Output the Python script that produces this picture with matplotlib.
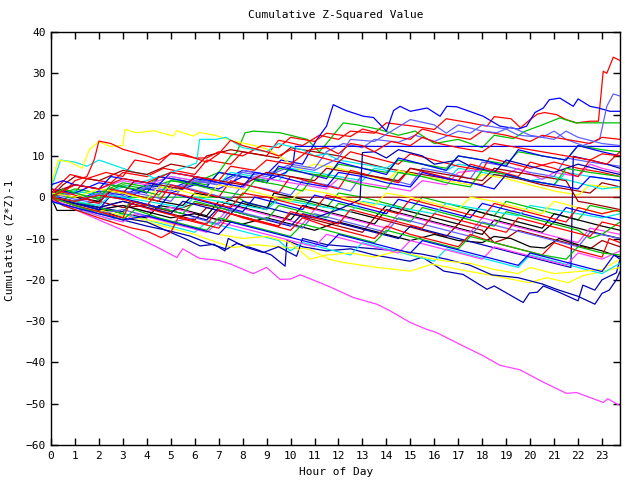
import matplotlib
matplotlib.use("Agg")
import matplotlib.pyplot as plt

# gnuplot-style colours
R = '#ff0000'
G = '#00c000'
B = '#0000ff'
M = '#ff40ff'
C = '#00e8e8'
DR = '#a00000'
Y = '#ffff00'
K = '#000000'
LB = '#6060ff'
DB = '#0000b0'

# each walk: (hour, cumulative value)
r_top = [(0,0),(0.5,2),(1,1.2),(1.5,4.5),(2.5,3.5),(3,6),(4,5),(4.7,7),(6,5.5),(6.5,9),(7.5,8),(8,11),(9,10),(9.5,13.8),(10.5,12.5),(11.2,15),(12,14),(12.5,16),(13.5,15.5),(14,18),(15,17.3),(16,16.4),(16.5,19),(17.5,18),(18.2,17.2),(18.5,19.5),(19.2,19),(19.6,16.8),(20,18.8),(20.3,20.1),(20.6,20.5),(21.1,20),(21.5,18.8),(21.94,18),(22.5,18.4),(22.85,18.4),(23.05,30.5),(23.2,30),(23.47,33.9),(23.75,33.1)]
r_a = [(0,1),(0.8,5.5),(1.5,4.5),(2.3,6),(3,5),(3.5,9),(4.5,8),(5,10.7),(6,9.5),(6.5,9.5),(7,11),(8,10),(8.8,12.5),(9.5,12),(10,14.5),(11,13.5),(11.5,15.5),(12.5,14.7),(13,16.5),(14,15),(15,14),(15.5,16.5),(16.5,15),(17.5,14),(18,16),(19,15),(20,13.5),(20.5,15),(21.5,14),(22.5,13),(23,14.5),(23.75,14)]
r_b = [(0,0),(0.5,1),(1,4),(1.5,5),(1.8,9),(2.0,13.6),(2.5,13),(3,11.6),(4,10),(4.5,9),(5,10.5),(5.5,10.5),(6,9.5),(6.5,8.5),(7,10.5),(7.5,13.8),(8,12.5),(9,11),(9.5,10),(10,11.5),(11,10),(12,8.5),(12.5,11),(13.5,9.5),(14.5,8),(15,10.5),(16,9),(17,7.5),(18,6.5),(18.3,9.5),(19,8.5),(20,7),(21,8.5),(22,7),(23,6),(23.75,5)]
r_c = [(0,2),(1,0.5),(2,-1.5),(2.5,2),(3.5,0.5),(4.5,-1),(5,3),(6,1.5),(7,0),(7.5,4),(8.5,2.5),(9.5,1),(10,5),(11,3.5),(12,2),(12.5,6.5),(13.5,5),(14.5,3.5),(15,7),(16,5.5),(17,4),(17.5,8),(18.5,6.5),(19.5,5),(20,8.5),(21,7),(22,5),(22.5,9),(23.2,8),(23.75,11)]
r_d = [(0,0),(1,-2),(2,-3.5),(3,-5),(3.3,-1.5),(4.5,-3.5),(5.5,-5),(6.5,-6.5),(7,-3),(8,-5),(9,-6.5),(10,-8),(10.5,-5),(11.5,-7),(12.5,-8.5),(13.5,-10),(14,-7),(15,-9),(16,-10.5),(17,-12),(17.5,-9),(18.5,-11),(19.5,-12.5),(20.5,-14),(21,-11),(22,-13),(23,-14.5),(23.3,-10),(23.75,-11)]
r_e = [(0,0),(0.5,-2),(1,-3),(2,-5),(2.8,-6.5),(3.4,-7.5),(4,-8.2),(4.6,-9.8),(5,-8.5),(5.3,-5),(6,-6),(7,-7.5),(7.5,-4),(8.5,-5.5),(9.5,-7),(10,-3.5),(11,-5),(12,-6.5),(12.5,-3),(13.5,-4.5),(14.5,-6),(15.5,-7.5),(16,-4),(17,-5.5),(18,-7),(19,-8.5),(19.5,-5),(20.5,-6.5),(21.5,-8),(22.5,-9.5),(23,-6),(23.75,-7)]
r_f = [(0,0),(1,3),(2,2),(3,4.5),(4,3.5),(5,6),(6,5),(7,4),(7.5,7.5),(8.5,6.5),(9,9),(10,8),(10.8,11.5),(11.5,12),(12,10.5),(12.5,13),(13,12.5),(13.5,11),(14.2,13.5),(15,12.5),(15.5,14.5),(16.2,13),(17,12),(18,11),(18.5,13),(19.5,12),(20.5,11),(21.5,10),(22.5,9),(23,10.5),(23.75,10)]
r_g = [(0,0),(1,-1),(2,0.5),(3,-0.5),(4,-2),(4.5,1.5),(5.5,0.5),(6.5,-1),(7.5,-2.5),(8,1),(9,0),(10,-1.5),(11,-3),(11.5,0.5),(12.5,-1),(13.5,-2.5),(14.5,-4),(15,-0.5),(16,-2),(17,-3.5),(18,-5),(18.5,-1.5),(19.5,-3),(20.5,-4.5),(21.5,-6),(22,-2.5),(23,-4),(23.75,-3)]

g_flat18 = [(0,0),(1,1.5),(2,0.5),(3,3),(4,2),(5,4),(6,3.5),(7,6),(7.5,10),(7.75,10.8),(8.1,15.6),(8.45,16),(9.56,15.6),(10.7,14),(11.2,11),(11.5,13),(12.2,18),(12.8,17.5),(13.7,16.4),(14.5,15),(15.2,16),(16,13),(17,14),(18,12),(18.5,15),(19.3,14.2),(19.8,16),(20.5,17.5),(21.24,19.2),(21.9,18),(23.75,18)]
g_flat0 = [(0,0),(0.3,-1),(0.7,0),(7.8,0),(8.2,-1.5),(9,-2.5),(9.5,0),(10.5,-1),(11.5,-2.5),(12,1),(13,0),(14,-1.5),(15,-3),(15.5,0),(16.5,-1.5),(17.5,-3),(18.5,-4.5),(19,-1),(20,-2.5),(21,-4),(22,-5.5),(22.5,-2),(23.75,-3.5)]
g_a = [(0,0),(1,2),(2,1),(3,3.5),(4,2.5),(4.5,5),(5.5,4),(6.5,3),(7,6),(8,5),(9,4),(9.5,7),(10.5,6),(11.5,5),(12,8),(13,7),(14,6),(14.5,9),(15.5,8),(16.5,7),(17,10),(18,9),(19,8),(19.5,11),(20.5,10),(21.5,9),(22,12.5),(23,11.5),(23.75,11)]
g_b = [(0,0),(1,-1),(2,-2.5),(3,-4),(3.3,-1),(4.5,-2.5),(5.5,-4),(6,-1),(7,-2.5),(8,-4),(9,-5.5),(9.5,-2),(10.5,-3.5),(11.5,-5),(12,-1.5),(13,-3),(14,-4.5),(15,-6),(15.5,-2.5),(16.5,-4),(17.5,-5.5),(18.5,-7),(19,-3.5),(20,-5),(21,-6.5),(22,-8),(22.5,-10),(23,-9),(23.75,-6)]
g_c = [(0,0),(0.5,2),(1,1),(2,-0.5),(2.5,3),(3.5,2),(4.5,0.5),(5,4),(6,3),(7,1.5),(8,0.5),(8.5,4),(9.5,3),(10.5,1.5),(11,5.5),(12,4.5),(13,3),(14,2),(14.5,6),(15.5,5),(16.5,3.5),(17.5,2.5),(18,6.5),(19,5.5),(20,4),(21,3),(21.5,7),(22.5,6),(23.75,5)]
g_d = [(0,0),(1,-2),(2,-4),(3,-5.5),(3.5,-3),(4.5,-5),(5.5,-6.5),(6.5,-8),(7,-5),(8,-6.5),(9,-8),(10,-9.5),(10.5,-6.5),(11.5,-8),(12.5,-9.5),(13.5,-11),(14,-8),(15,-9.5),(16,-11),(17,-12.5),(17.5,-9.5),(18.5,-11),(19.5,-12.5),(20.5,-14),(21.5,-15),(22,-12),(23,-13.5),(23.75,-14)]

b_top = [(0,0),(1,-1),(2,1.5),(3,0.5),(4,3),(5,2),(6,4.5),(7,3.5),(8,6.5),(9,5.5),(9.6,9),(10.5,8),(11.1,14),(11.5,17.2),(11.78,22.4),(12.3,21),(13.04,19.6),(13.46,19.3),(14,16),(14.3,21),(14.57,22),(15,20.8),(15.7,21.6),(16.24,19.6),(16.52,22),(16.93,21.9),(18.04,19.6),(18.74,17.2),(19.5,16.5),(19.85,17.2),(20.2,20.5),(20.55,21.6),(20.8,23.6),(21.24,24),(21.8,22),(22,23.8),(22.5,22),(22.85,21.6),(23.33,20.8),(23.75,20.8)]
b_flat = [(0,0.5),(1,-1),(2,0.5),(3,-0.5),(4,2),(5,1),(6,3),(7,2),(8,5),(9,4),(9.8,6),(10.1,8),(10.2,12.3),(23.75,12.3)]
b_low1 = [(0,0),(1,-2),(2,-3.5),(3,-5.5),(4,-7),(4.97,-8.2),(5.8,-9.4),(6.5,-11),(7.33,-12.6),(7.75,-11.2),(8.5,-12.5),(9.2,-14),(9.77,-16.7),(9.85,-10.5),(10.5,-12),(11.5,-13),(12.5,-12.5),(13.5,-14),(14.98,-15.5),(15.5,-14.5),(16.4,-17.9),(17.2,-18.7),(18.2,-22.3),(18.5,-21.5),(19.71,-25.5),(19.97,-23.2),(20.3,-23),(20.55,-21.5),(21.2,-23),(22.0,-25.1),(22.2,-21.3),(22.7,-22.5),(23.0,-20),(23.6,-18.3),(23.75,-15)]
b_low2 = [(0,0),(1,-1.5),(2,-3),(3,-5),(4,-6),(5.66,-10.2),(6.22,-11.8),(6.8,-11.4),(7.26,-13),(7.4,-10),(8.17,-12.2),(8.86,-13.4),(9.5,-12),(10.25,-14.3),(10.5,-10),(11.5,-11.5),(12.5,-12),(13.5,-12.5),(14.5,-13),(15.5,-13.8),(16.5,-15),(17.5,-16.5),(18.4,-18.8),(19.5,-19.5),(20.5,-21),(21.1,-22.3),(22,-24),(22.7,-25.9),(23.0,-23.3),(23.3,-22.5),(23.6,-20),(23.75,-18)]
b_a = [(0,2),(1,1),(2,3.5),(3,2.5),(4,1),(4.5,5),(5.5,4),(6.5,2.5),(7,6),(8,5),(9,3.5),(9.5,7.5),(10.5,6),(11.5,4.5),(12,8.5),(13,7),(14,5.5),(14.5,9.5),(15.5,8),(16.5,6.5),(17,10),(18,9),(19,7.5),(19.5,11.5),(20.5,10),(21.5,9),(22,12.5),(23,11),(23.75,10)]
b_b = [(0,0),(1,-1.5),(2,-3),(2.5,0.5),(3.5,-1),(4.5,-2.5),(5,1),(6,-0.5),(7,-2),(8,-3.5),(8.5,0),(9.5,-1.5),(10.5,-3),(11,0.5),(12,-1),(13,-2.5),(14,-4),(14.5,-0.5),(15.5,-2),(16.5,-3.5),(17.5,-5),(18,-1.5),(19,-3),(20,-4.5),(21,-6),(21.5,-2.5),(22.5,-4),(23.75,-5.5)]
b_c = [(0,0),(1,-1),(2,-2.5),(3,-3.5),(3.5,-1),(4.5,-2.5),(5.5,-4),(6.5,-5.5),(7,-2.5),(8,-4),(9,-5.5),(10,-7),(10.5,-4),(11.5,-5.5),(12.5,-7),(13.5,-8.5),(14.5,-10),(15,-7),(16,-8.5),(17,-10),(18,-11.5),(19,-13),(20,-14.5),(21,-16),(21.7,-17),(21.8,9.9),(22.5,9),(23.2,8),(23.75,7)]
b_d = [(0,0),(1,-1.5),(2,-2.5),(3,-1),(4,-2.5),(5,-4),(5.5,-1),(6.5,-2.5),(7.5,-4),(8,-1),(9,-2.5),(10,-4),(11,-5),(12,-3),(12.9,-0.6),(13,10.8),(13.5,11),(14,9.5),(14.5,11.5),(15.5,10),(16,8),(17,9),(17.5,7.5),(18.5,6),(19,9),(20,7.5),(21,6),(22,8),(23,6.5),(23.75,5.5)]
b_e = [(0,3),(0.5,4),(1,3),(2,2),(2.5,5),(3.5,4),(4.5,3),(5,6),(6,5),(7,3.5),(8,2.5),(8.5,6),(9.5,5),(10.5,3.5),(11.5,2.5),(12,6),(13,5),(14,3.5),(15,2.5),(15.5,6),(16.5,4.5),(17.5,3.5),(18.5,2),(19,5.5),(20,4),(21,3),(22,2),(22.5,5),(23.75,4)]
b_f = [(0,-1),(1,-2.5),(2,-4),(3,-5.5),(4,-4.5),(5,-6),(6,-7.5),(7,-9),(7.5,-6),(8.5,-7.5),(9.5,-9),(10.5,-10.5),(11.5,-12),(12,-9),(13,-10.5),(14,-12),(15,-13.5),(15.5,-10.5),(16.5,-12),(17.5,-13.5),(18.5,-15),(19.5,-16.5),(20,-13.5),(21,-15),(22,-16.5),(23,-18),(23.5,-14),(23.75,-15)]

lb_top = [(0,1),(1,-0.5),(2,-1.5),(2.5,2),(3.5,1),(4.5,3.5),(5.5,2.5),(6.5,4),(7.5,3),(8,6.5),(9,5.5),(10,8),(11,7),(11.5,11),(12.2,13),(13,12),(13.5,14),(14.5,13.3),(15.2,15),(16,13.5),(17,16),(17.5,15.5),(18,17.5),(19,16.5),(19.5,15),(20.5,14.5),(21,16),(21.5,14),(22.2,12.5),(22.9,14),(23.2,22),(23.47,25),(23.75,24.5)]
lb_a = [(0,0),(1,1),(2,-0.5),(3,1.5),(4,0.5),(5,-1),(5.5,2.5),(6.5,1),(7.5,-0.5),(8,3),(9,2),(10,0.5),(10.5,4),(11.5,3),(12.5,1.5),(13,5.5),(14,4.5),(15,3),(15.5,7),(16.5,6),(17.5,4.5),(18,8.5),(19,7.5),(20,6),(21,5),(21.5,9.5),(22.5,8.5),(23.75,7.5)]
lb_b = [(0,0),(1,-1),(2,1),(3,0),(4,2.5),(5,1.5),(6,4),(7,3),(8,6),(9,5),(10,7.5),(11,6.5),(12,9.5),(12.5,14),(13.5,13.5),(14.5,17),(15,18.8),(16,17.5),(16.5,15.5),(17,17.5),(18,16),(18.6,15.6),(19.2,17),(20,15),(21,14),(21.5,16),(22,14.5),(23,13),(23.75,12.5)]
lb_c = [(0,-1),(1,-2.5),(2,-4),(3,-3),(4,-4.5),(5,-6),(6,-5),(7,-6.5),(7.5,-3),(8.5,-4.5),(9.5,-6),(10.5,-7.5),(11,-4),(12,-5.5),(13,-7),(14,-8.5),(14.5,-5),(15.5,-6.5),(16.5,-8),(17.5,-9.5),(18,-6),(19,-7.5),(20,-9),(21,-10.5),(22,-12),(22.5,-8.5),(23.75,-10)]

m_low = [(0,-0.5),(0.5,-1.8),(1,-3),(2,-5.5),(3,-8),(3.76,-10.2),(4.5,-12.3),(5.25,-14.6),(5.5,-12.5),(6.2,-14.8),(7,-15.3),(7.5,-16.2),(8.44,-18.5),(9,-17),(9.56,-19.9),(10,-19.8),(10.4,-18.8),(10.8,-19.7),(11.64,-21.7),(12.62,-24.3),(13.6,-25.9),(14.15,-27.5),(14.98,-30.3),(15.68,-32),(16.1,-32.8),(17.2,-36),(18.04,-38.4),(18.74,-40.7),(19.58,-41.8),(20.55,-44.8),(21.52,-47.5),(21.94,-47.3),(23.05,-49.7),(23.24,-48.8),(23.75,-50.5)]
m_a = [(0,0),(1,-1.5),(2,-3),(3,-2),(4,-3.5),(5,-2.5),(6,-4),(7,-5.5),(7.5,-2),(8.5,-3.5),(9.5,-5),(10.5,-6.5),(11,-3),(12,-4.5),(13,-6),(14,-7.5),(14.5,-4),(15.5,-5.5),(16.5,-7),(17.5,-8.5),(18,-5),(19,-6.5),(20,-8),(21,-9.5),(22,-11),(22.5,-7.5),(23.75,-9)]
m_b = [(0,1),(1,3),(2,2),(3,4),(4,3),(5,5),(6,4),(7,3),(8,2),(8.5,5),(9.5,4),(10.5,3),(11.5,2),(12,4.5),(13,3.5),(14,2.5),(15,1.5),(15.5,4),(16.5,3),(17,6),(18.2,6.7),(19,5.5),(19.5,7),(20.5,4.3),(21,6),(22,5),(22.5,8),(23,7),(23.75,6)]
m_c = [(0,-0.5),(1,-2.5),(2,-4.5),(3,-6),(3.5,-4),(4.5,-5.5),(5.5,-7),(6.5,-8.5),(7,-6),(8,-7.5),(9,-9),(10,-10.5),(11,-12),(11.5,-9),(12.5,-10.5),(13.5,-12),(14.5,-13.5),(15,-10.5),(16,-12),(17,-13.5),(18,-15),(18.5,-12),(19.5,-13.5),(20.5,-15),(21.5,-16.5),(22,-13.5),(23,-15),(23.75,-13)]

c_a = [(0,2),(0.4,9),(1,8.5),(1.5,7.5),(2,9),(2.5,8),(3,7),(3.5,6),(4,5.5),(4.5,4),(5,5),(6,4),(7,3),(7.5,6),(8.5,5),(9.5,4),(10,7),(11,6),(12,5),(13,4),(13.5,7),(14.5,6),(15.5,5),(16.5,4),(17,7),(18,6),(19,5),(20,4),(21,3),(21.5,6),(22.5,5),(23.75,4)]
c_b = [(0,0),(1,1.5),(2,0.5),(3,2.5),(4,4),(5,6),(5.5,7),(6.08,8.3),(6.2,14),(6.9,14),(7.3,14.5),(8,12),(9,11),(9.5,13),(10.5,11.5),(11,10),(11.5,10.5),(12,9),(13,8),(14,7),(14.5,9),(15.5,8),(16.5,6.5),(17,8),(18,7),(19,5.5),(20,4),(21,5),(22,3.5),(23,2),(23.75,2.5)]
c_c = [(0,-1),(1,-3),(2,-4.5),(2.5,-5.5),(3,-4),(4,-5.5),(5,-7),(6,-8.5),(6.5,-6),(7.5,-7.5),(8.5,-9),(9.5,-10.5),(10,-13),(10.5,-11),(11.5,-12.5),(12.5,-14),(13,-11),(14,-12.5),(15,-14),(16,-15.5),(16.5,-12.5),(17.5,-14),(18.5,-15.5),(19.5,-17),(20,-14),(21,-15.5),(22,-17),(23,-18.5),(23.75,-16)]
c_d = [(0,0),(1,-1),(2,-2),(2.5,0.5),(3.5,-0.5),(4.5,-1.5),(5.5,-2.5),(6,0),(7,-1),(8,-2),(9,-3),(9.5,-0.5),(10.5,-1.5),(11.5,-2.5),(12.5,-3.5),(13,-1),(14,-2),(15,-3),(16,-4),(16.5,-1.5),(17.5,-2.5),(18.5,-3.5),(19.5,-4.5),(20,-2),(21,-3),(22,-4),(23,-5),(23.75,-4)]

dr_flat = [(0,0),(0.5,-1),(1,-2),(2,-1),(3,-2.5),(4,-2),(5,-3.5),(6,-1.5),(7,-2.5),(7.6,0),(23.75,0)]
dr_a = [(0,0),(0.5,3),(1,5),(2,4),(3,6.5),(4,5.5),(5,8),(6,7),(6.5,10),(7.5,11.5),(8.5,10.5),(9.5,9.5),(10,12),(11,11),(12,10),(13,8.5),(14,7),(15,6),(16,5),(17,4),(18,3),(18.5,5.5),(19.5,4.5),(20.5,3),(21.5,2),(22.5,1),(23,3.5),(23.75,2.5)]
dr_b = [(0,0),(1,-1),(2,-2.5),(3,-1),(4,-2.5),(5,-4),(6,-5.5),(6.5,-2.5),(7.5,-4),(8.5,-5.5),(9.5,-7),(10,-4),(11,-5.5),(12,-7),(13,-8.5),(13.5,-5),(14.5,-6.5),(15.5,-8),(16.5,-9.5),(17,-6.5),(18,-8),(18.5,-11),(19,-10),(19.5,-8),(20.5,-9.5),(21.5,-11),(22.5,-12.5),(23,-10.5),(23.75,-12)]
dr_c = [(0,1),(1,3),(2,2),(3,1),(3.5,4),(4.5,3),(5.5,2),(6,5),(7,4),(8,3),(9,6),(10,5),(11,4),(11.5,7),(12.5,6),(13.5,5),(14.5,4),(15,7),(16,6),(17,5),(18,4),(18.5,7),(19.5,6),(20.5,5),(21.5,4),(22,-1),(22.5,-1.5),(23.75,-3)]

y_top = [(0,3),(0.3,9),(0.8,8.5),(1.3,7),(1.6,11.5),(2.0,13.5),(2.46,12.3),(3.0,12.5),(3.09,16.4),(3.58,15.6),(4.3,16.1),(5.1,14.8),(5.25,16.1),(5.94,14.8),(6.2,15.7),(6.9,14.9),(7.6,13.6),(8.5,12.5),(9.1,11.5),(9.5,10),(10.4,6.6),(11,8),(12,7),(13,5.5),(14,4),(14.5,6.5),(15.5,5),(16.5,4),(17.5,3),(18,5.5),(19,4.5),(20,3),(21,1.5),(22,0.5),(22.5,3),(23.75,2)]
y_low1 = [(0,0),(1,-2),(2,-3.5),(3,-5),(4,-6),(5,-7.5),(6,-9),(6.7,-10.5),(7.6,-12.2),(8.5,-11.5),(9.5,-12),(10.8,-12.6),(11.6,-15),(12.2,-15.8),(13.6,-17),(15,-17.9),(15.9,-16.2),(17.4,-17.9),(18.56,-19.1),(19.96,-20.7),(20.7,-19.5),(21.6,-20.7),(22.2,-19),(23,-18),(23.75,-17)]
y_low2 = [(0,0),(1,-1.5),(2,-3),(3,-4.5),(4,-5.5),(5,-6.5),(6,-7.5),(7,-9),(8,-10),(9,-9.5),(10,-11),(10.8,-15),(11.5,-14),(12.5,-13.5),(13.5,-14.5),(14.5,-13),(15.5,-14.5),(16.5,-15.5),(17.5,-16),(18.5,-17.5),(19.5,-18.5),(20,-17),(21,-18.5),(22,-18),(23,-17.5),(23.75,-15)]
y_a = [(0,1),(1,0),(2,2),(3,1),(4,-0.5),(4.5,2.5),(5.5,1.5),(6.5,0),(7,3),(8,2),(9,0.5),(10,-1),(10.5,2),(11.5,1),(12.5,-0.5),(13.5,-2),(14,1),(15,0),(16,-1.5),(17,-3),(17.5,0),(18.5,-1),(19.5,-2.5),(20.5,-4),(21,-1),(22,-2.5),(23,-4),(23.75,-3)]

k_flat = [(0,0),(0.25,-3.2),(2.5,-3.2),(3,-4),(4,-5),(4.5,-2),(5.5,-3),(6.5,-4.5),(7,-1),(8,-2.5),(9,-4),(10,-5.5),(10.5,-2),(11.5,-3.5),(12.5,-5),(13.5,-6.5),(14,-3),(15,-4.5),(16,-6),(17,-7.5),(18,-9),(18.5,-5.5),(19.5,-7),(20.5,-8.5),(21,-6),(22,-7.5),(23,-9),(23.75,-10)]
k_a = [(0,1),(1,0),(2,-1),(2.5,1.5),(3.5,0.5),(4.5,-1),(5.5,-2),(6,1),(7,0),(8,-1.5),(9,-3),(9.3,1),(10.5,-0.5),(11.5,-2),(12.5,-3.5),(13.5,-5),(14,-2),(15,-3.5),(16,-5),(17,-6.5),(17.5,-3),(18.5,-4.5),(19.5,-6),(20.5,-7.5),(21,-4),(22,-5.5),(23,-7),(23.75,-8)]
k_b = [(0,0),(1,-1.5),(2,-3),(3,-2),(4,-3.5),(5,-5),(6,-4),(7,-5.5),(8,-6.5),(9,-5),(10,-6.5),(11,-8),(12,-6),(13,-7.5),(14,-9),(15,-10.5),(16,-9),(17,-10.5),(18,-11),(18.5,-9.5),(19.2,-10),(20,-12),(20.6,-12.3),(21.2,-10),(22,-11.5),(23,-13),(23.75,-14.5)]

# drawing order and colour of each walk
series = [
    (r_top, R), (g_flat18, G), (b_top, B), (m_low, M), (c_a, C), (dr_a, DR), (y_top, Y), (k_flat, K), (lb_top, LB), (b_low1, DB),
    (r_a, R), (g_flat0, G), (b_flat, B), (m_a, M), (c_b, C), (dr_flat, DR), (y_low1, Y), (k_a, K), (lb_a, LB), (b_low2, DB),
    (r_b, R), (g_a, G), (b_a, B), (m_b, M), (c_c, C), (dr_b, DR), (y_low2, Y), (k_b, K), (lb_b, LB), (b_c, DB),
    (r_c, R), (g_b, G), (b_b, B), (m_c, M), (c_d, C), (dr_c, DR), (y_a, Y), (lb_c, LB), (b_d, DB),
    (r_d, R), (g_c, G), (b_e, B), (r_e, R), (g_d, G), (b_f, B), (r_f, R), (r_g, R),
]

hour_ticks = list(range(0, 24))
value_ticks = list(range(-60, 41, 10))

fig = plt.figure(figsize=(6.4, 4.8), dpi=100)
ax = fig.add_axes([51/640, 1-445/480, 569/640, 413/480])

for pts, col in series:
    hx = [p[0] for p in pts]
    vy = [p[1] for p in pts]
    ax.plot(hx, vy, color=col, lw=0.9)

ax.set_xlim(0, 23.75)
ax.set_ylim(-60, 40)
ax.set_xticks(hour_ticks)
ax.set_yticks(value_ticks)
mono = 'DejaVu Sans Mono'
ax.tick_params(direction='in', length=5, width=1, top=True, right=True, labelsize=8, pad=4)
for lab in ax.get_xticklabels() + ax.get_yticklabels():
    lab.set_family(mono)
for sp in ax.spines.values():
    sp.set_linewidth(1)

fig.text(336/640, 1-15/480, 'Cumulative Z-Squared Value', ha='center', va='center', family=mono, fontsize=8)
fig.text(336/640, 1-472/480, 'Hour of Day', ha='center', va='center', family=mono, fontsize=8)
fig.text(10/640, 1-240/480, 'Cumulative (Z*Z)-1', ha='center', va='center', rotation=90, family=mono, fontsize=8)

fig.savefig('out.png', dpi=100)
